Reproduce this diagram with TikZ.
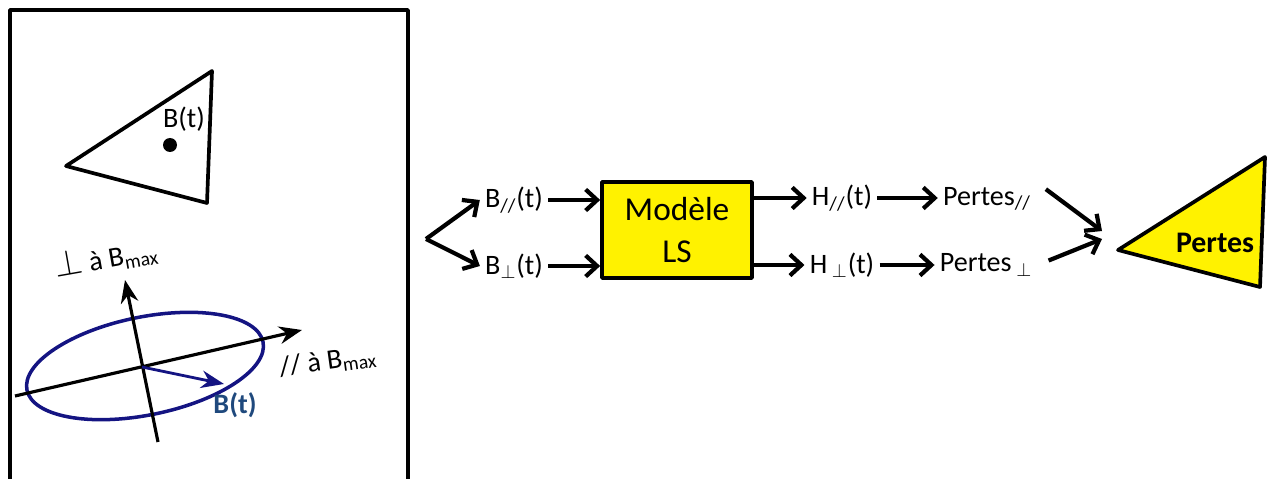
\documentclass[tikz,border=0pt]{standalone}
\usepackage{fontspec}
\setmainfont{Carlito}
\usetikzlibrary{arrows.meta, calc}
\definecolor{ellblue}{RGB}{20,20,130}
\definecolor{txtblue}{RGB}{31,73,125}

\begin{document}
\begin{tikzpicture}[x=0.02cm,y=-0.02cm,line join=round,
      flow/.style={->,line width=2.4pt,>={Straight Barb[length=6.5pt,width=12pt]}},
      axis/.style={->,line width=1.8pt,>={Stealth[length=13pt,width=10pt]}},
      lbl/.style={inner sep=2.8pt,font=\fontsize{16}{19}\selectfont},
      small/.style={inner sep=0pt,font=\fontsize{16}{19}\selectfont},
      outline/.style={line width=2.1pt}]
      \useasboundingbox (0,0) rectangle (1267,479);
      % left panel
      \draw[outline] (10,500) -- (10,10) -- (408,10) -- (408,500);
      \draw[outline] (66,166) -- (212,71) -- (207,203) -- cycle;
      \fill (170,145) circle[radius=0.14cm];
      \node[lbl] (bt) at (184,119) {B(t)};
      \coordinate (o) at (142,367);
      \coordinate (pl) at (15,396);
      \coordinate (pr) at (302,330);
      \coordinate (vb) at (158,442);
      \coordinate (vt) at (125,280);
      \coordinate (bvec) at (224,384);
      \draw[ellblue,line width=2pt,rotate around={11.5:(145,366)}]
        (145,366) ellipse [x radius=2.41cm,y radius=0.98cm];
      \draw[axis] (pl) -- (pr);
      \draw[axis] (vb) -- (vt);
      \draw[axis,ellblue,line width=1.6pt] (o) -- (bvec);
      \node[font=\bfseries\fontsize{16}{19}\selectfont,text=txtblue] (btvec) at (235,405) {B(t)};
      \node[small,rotate=10] (perplbl) at (106,258)
        {{\fontsize{21}{21}\selectfont$\perp$} à B\textsubscript{max}};
      \node[small,rotate=8] (parlbl) at (328,362) {// à B\textsubscript{max}};
      % chain
      \coordinate (fork) at (426,239);
      \node[lbl] (bpar) at (514,200) {B\textsubscript{//}(t)};
      \node[lbl] (bperp) at (514,266) {B\textsubscript{$\perp$}(t)};
      \node[draw,outline,fill=yellow,minimum width=3cm,minimum height=1.92cm,align=center,
        font=\fontsize{19}{24}\selectfont] (model) at (677,230) {Modèle\\LS};
      \node[lbl] (hpar) at (842,198) {H\textsubscript{//}(t)};
      \node[lbl] (hperp) at (842,265) {H\,\textsubscript{$\perp$}(t)};
      \node[lbl] (ppar) at (987,199) {Pertes\textsubscript{//}};
      \node[lbl] (pperp) at (986,265) {Pertes\,\textsubscript{$\perp$}};
      \draw[outline,fill=yellow] (1118,250) -- (1265,157) -- (1260,287) -- cycle;
      \node[font=\bfseries\fontsize{17}{20}\selectfont] (total) at (1215,243) {Pertes};
      \coordinate (inpar) at (1102,231);
      \coordinate (inperp) at (1102,239);
      \draw[flow] (fork) -- (bpar.west);
      \draw[flow] (fork) -- (bperp.west);
      \draw[flow] (bpar.east) -- (bpar.east -| model.west);
      \draw[flow] (bperp.east) -- (bperp.east -| model.west);
      \draw[flow] (model.east |- hpar.west) -- (hpar.west);
      \draw[flow] (model.east |- hperp.west) -- (hperp.west);
      \draw[flow] (hpar.east) -- (hpar.east -| ppar.west);
      \draw[flow] (hperp.east) -- (hperp.east -| pperp.west);
      \draw[flow,shorten <=0.24cm] (ppar.north east) -- (inpar);
      \draw[flow,shorten <=0.24cm] (pperp.east) -- (inperp);
\end{tikzpicture}
\end{document}
